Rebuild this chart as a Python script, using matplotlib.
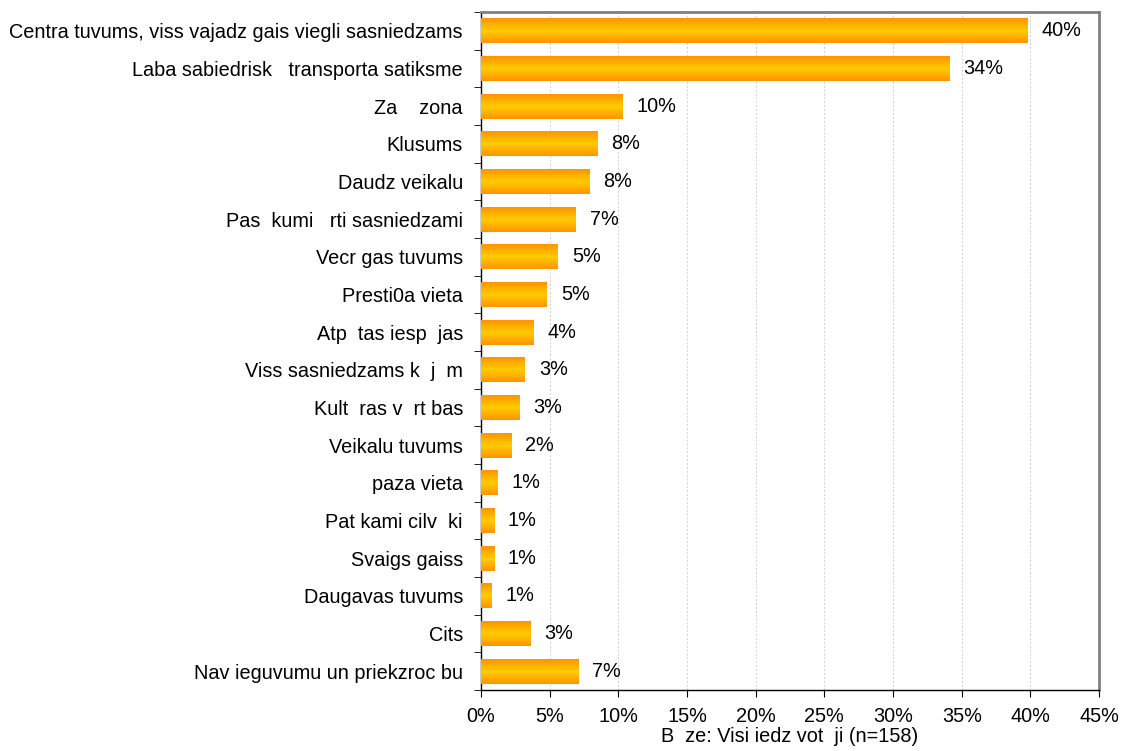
import matplotlib
matplotlib.use("Agg")
import matplotlib.pyplot as plt
import matplotlib.ticker as mtick
import numpy as np
from matplotlib.colors import LinearSegmentedColormap

labels = [
    "Centra tuvums, viss vajadz gais viegli sasniedzams",
    "Laba sabiedrisk   transporta satiksme",
    "Za    zona",
    "Klusums",
    "Daudz veikalu",
    "Pas  kumi   rti sasniedzami",
    "Vecr gas tuvums",
    "Presti0a vieta",
    "Atp  tas iesp  jas",
    "Viss sasniedzams k  j  m",
    "Kult  ras v  rt bas",
    "Veikalu tuvums",
    "paza vieta",
    "Pat kami cilv  ki",
    "Svaigs gaiss",
    "Daugavas tuvums",
    "Cits",
    "Nav ieguvumu un priekzroc bu",
]
values = [39.8, 34.1, 10.3, 8.5, 7.9, 6.9, 5.6, 4.8, 3.8, 3.2, 2.8, 2.2, 1.2, 0.95, 0.95, 0.8, 3.6, 7.1]
value_labels = ["40%", "34%", "10%", "8%", "8%", "7%", "5%", "5%", "4%", "3%", "3%", "2%",
                "1%", "1%", "1%", "1%", "3%", "7%"]
xticks = [0, 5, 10, 15, 20, 25, 30, 35, 40, 45]
base_note = "B  ze: Visi iedz vot  ji (n=158)"

plt.rcParams["font.family"] = ["Liberation Sans", "DejaVu Sans"]
plt.rcParams["font.size"] = 14.3

fig = plt.figure(figsize=(11.22, 7.51), dpi=100)
ax = fig.add_axes([0.4287, 0.0812, 0.9795 - 0.4287, 0.984 - 0.0812])

y = np.arange(len(labels))
bars = ax.barh(y, values, height=0.66, color="none", edgecolor="none", zorder=3)

# orange edges, yellow middle
cmap = LinearSegmentedColormap.from_list("bar", ["#FF9400", "#FFCC00", "#FF9400"])
grad = np.linspace(0, 1, 64).reshape(-1, 1)
for b in bars:
    x0, y0 = b.get_x(), b.get_y()
    w, h = b.get_width(), b.get_height()
    im = ax.imshow(grad, cmap=cmap, aspect="auto", extent=(x0, x0 + w, y0, y0 + h),
                   origin="lower", zorder=3, interpolation="bilinear")
    im.set_clip_path(b)

for yi, v, t in zip(y, values, value_labels):
    ax.annotate(t, xy=(v, yi), xytext=(10, 0), textcoords="offset points",
                va="center", ha="left", zorder=4)

ax.set_ylim(len(labels) - 0.5, -0.5)
ax.set_xlim(0, 45)
ax.set_yticks(y)
ax.set_yticklabels(labels)
ax.set_yticks(np.arange(len(labels) + 1) - 0.5, minor=True)
ax.tick_params(axis="y", which="major", length=0, pad=13)
ax.tick_params(axis="y", which="minor", length=5, color="black", direction="out")
ax.set_xticks(xticks)
ax.xaxis.set_major_formatter(mtick.FormatStrFormatter("%d%%"))
ax.tick_params(axis="x", length=5, direction="out", pad=7)
ax.set_xlabel(base_note, labelpad=1)

ax.grid(True, axis="x", color="#D0D0D0", linestyle=(0, (2, 2)), linewidth=0.7, zorder=0)
ax.set_axisbelow(True)

ax.spines["left"].set_color("black")
ax.spines["bottom"].set_color("black")
ax.spines["top"].set_color("#808080")
ax.spines["right"].set_color("#808080")
ax.spines["top"].set_linewidth(2)
ax.spines["right"].set_linewidth(2)
ax.spines["left"].set_linewidth(1)
ax.spines["bottom"].set_linewidth(1)

fig.savefig("out.png", dpi=100)
